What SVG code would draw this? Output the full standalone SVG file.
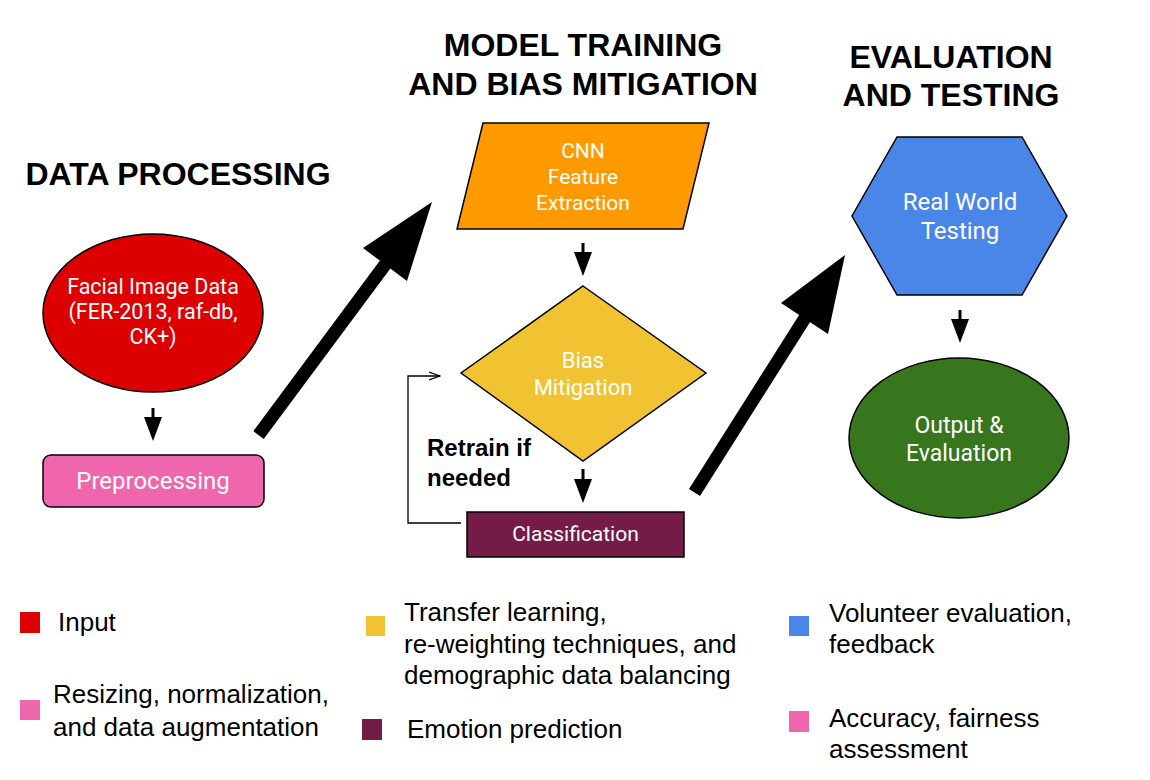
<svg xmlns="http://www.w3.org/2000/svg" width="1150" height="780" viewBox="0 0 1150 780">
<style>
.title{font-family:"Liberation Sans",Arial,sans-serif;font-weight:bold;font-size:32px;fill:#000;text-anchor:middle}
.nt{font-family:Roboto,"Noto Sans",sans-serif;fill:#fff;text-anchor:middle}
.shape{stroke:#000;stroke-width:1.5}
.leg{font-family:"Liberation Sans",Arial,sans-serif;font-size:26px;fill:#000}
.note{font-family:"Liberation Sans",Arial,sans-serif;font-weight:bold;font-size:24px;fill:#000}
.small{stroke:#000;stroke-width:3;fill:none}
.big{stroke:#000;stroke-width:13;fill:none}
</style>
<defs>
<marker id="open" markerWidth="12" markerHeight="10" refX="11" refY="5" orient="auto" markerUnits="userSpaceOnUse">
<path d="M0,1 L11,5 L0,9" fill="none" stroke="#000" stroke-width="1.3"/>
</marker>
</defs>
<rect width="1150" height="780" fill="#fff"/>

<g id="titles">
<text class="title" x="178" y="185">DATA PROCESSING</text>
<text class="title" x="583" y="56">MODEL TRAINING</text>
<text class="title" x="583" y="95">AND BIAS MITIGATION</text>
<text class="title" x="951" y="68">EVALUATION</text>
<text class="title" x="951" y="106">AND TESTING</text>
</g>

<g id="node-input">
<ellipse class="shape" cx="153" cy="313" rx="110" ry="79" fill="#dc0000"/>
<text class="nt" font-size="21.5" x="153" y="294">Facial Image Data</text>
<text class="nt" font-size="21.5" x="153" y="319">(FER-2013, raf-db,</text>
<text class="nt" font-size="21.5" x="153" y="344">CK+)</text>
</g>

<g id="node-preprocessing">
<rect class="shape" x="43" y="455" width="221" height="52" rx="8" fill="#f066ac"/>
<text class="nt" font-size="24" x="153" y="489">Preprocessing</text>
</g>

<g id="node-cnn">
<polygon class="shape" points="483,123 709,123 683,229 457,229" fill="#ff9900"/>
<text class="nt" font-size="21" x="583" y="158">CNN</text>
<text class="nt" font-size="21" x="583" y="184">Feature</text>
<text class="nt" font-size="21" x="583" y="210">Extraction</text>
</g>

<g id="node-bias">
<polygon class="shape" points="583,286 706,373 583,461 461,373" fill="#f1c232"/>
<text class="nt" font-size="22" x="583" y="368">Bias</text>
<text class="nt" font-size="22" x="583" y="395">Mitigation</text>
</g>

<g id="node-classification">
<rect class="shape" x="467" y="512" width="217" height="45" fill="#741b47"/>
<text class="nt" font-size="21" x="575.5" y="541">Classification</text>
</g>

<g id="node-testing">
<polygon class="shape" points="897,137 1022,137 1067,216 1022,295 897,295 852,216" fill="#4a86e8"/>
<text class="nt" font-size="24" x="960" y="210">Real World</text>
<text class="nt" font-size="24" x="960" y="239">Testing</text>
</g>

<g id="node-output">
<ellipse class="shape" cx="959" cy="438" rx="110" ry="80" fill="#38761d"/>
<text class="nt" font-size="23" x="959" y="433">Output &amp;</text>
<text class="nt" font-size="23" x="959" y="461">Evaluation</text>
</g>

<g id="retrain-label">
<text class="note" x="427" y="456">Retrain if</text>
<text class="note" x="427" y="486">needed</text>
</g>

<g id="connectors">
<line class="small" x1="153" y1="408" x2="153" y2="418"/>
<polygon points="144,417 162,417 153,441"/>
<line class="small" x1="583" y1="243" x2="583" y2="253"/>
<polygon points="574,252 592,252 583,276"/>
<line class="small" x1="583" y1="469" x2="583" y2="480"/>
<polygon points="574,479 592,479 583,503"/>
<line class="small" x1="960" y1="310" x2="960" y2="320"/>
<polygon points="951,319 969,319 960,343"/>
<path d="M461,523 H408 V376 H440" fill="none" stroke="#000" stroke-width="1.3" marker-end="url(#open)"/>
<line class="big" x1="258.5" y1="435" x2="390" y2="258"/>
<polygon points="432,202 363,248 407,281"/>
<line class="big" x1="694.5" y1="492.5" x2="810" y2="310"/>
<polygon points="845,255 781,303 828,334"/>
</g>

<g id="legend">
<rect x="20" y="612" width="20" height="21" fill="#dc0000"/>
<text class="leg" x="58" y="631">Input</text>
<rect x="20" y="700" width="20" height="20" fill="#f066ac"/>
<text class="leg" x="53" y="703">Resizing, normalization,</text>
<text class="leg" x="53" y="736">and data augmentation</text>
<rect x="366" y="616" width="19" height="20" fill="#f1c232"/>
<text class="leg" x="404" y="621">Transfer learning,</text>
<text class="leg" x="404" y="653">re-weighting techniques, and</text>
<text class="leg" x="404" y="684">demographic data balancing</text>
<rect x="362" y="719" width="20" height="21" fill="#741b47"/>
<text class="leg" x="407" y="738">Emotion prediction</text>
<rect x="789" y="616" width="20" height="20" fill="#4a86e8"/>
<text class="leg" x="829" y="622">Volunteer evaluation,</text>
<text class="leg" x="829" y="653">feedback</text>
<rect x="789" y="711" width="20" height="21" fill="#f066ac"/>
<text class="leg" x="829" y="727">Accuracy, fairness</text>
<text class="leg" x="829" y="758">assessment</text>
</g>
</svg>
